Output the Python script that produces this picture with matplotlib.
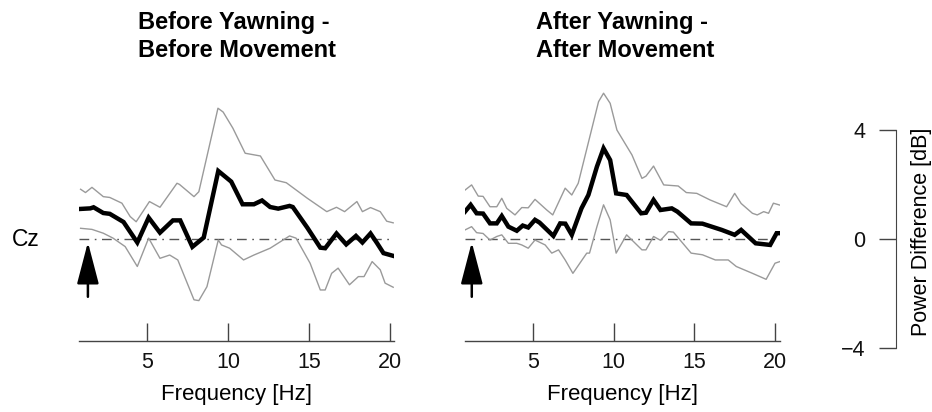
import matplotlib
matplotlib.use('Agg')
import matplotlib.pyplot as plt

plt.rcParams['font.family'] = ['Liberation Sans', 'DejaVu Sans']

# values, power difference in dB vs frequency in Hz
left_mean_f = [0.9, 1.5, 1.7, 2.3, 2.7, 3.55, 4.4, 5.1, 5.8, 6.6, 7.05, 7.8, 8.5, 9.4, 10.2,
               10.9, 11.6, 12.1, 12.6, 13.1, 13.8, 14.0, 14.9, 15.7, 16.0, 16.7, 17.3, 17.9,
               18.3, 18.8, 19.2, 19.6, 20.2]
left_mean_v = [1.10, 1.12, 1.16, 0.95, 0.92, 0.62, -0.13, 0.78, 0.23, 0.68, 0.68, -0.29, 0.05,
               2.49, 2.10, 1.27, 1.27, 1.41, 1.17, 1.11, 1.21, 1.17, 0.41, -0.32, -0.34, 0.20,
               -0.20, 0.11, -0.13, 0.20, -0.15, -0.52, -0.62]

left_upper_f = [0.9, 1.2, 1.6, 2.3, 2.7, 3.45, 3.96, 4.33, 5.15, 5.8, 6.85, 7.0, 7.9, 8.2, 9.1,
                9.38, 9.7, 10.3, 11.06, 12.0, 12.9, 13.6, 14.9, 16.1, 16.7, 17.2, 17.96, 18.3,
                18.8, 19.4, 19.8, 20.2]
left_upper_v = [1.82, 1.70, 1.89, 1.55, 1.52, 1.31, 0.82, 0.63, 1.37, 1.16, 2.04, 2.00, 1.55,
                1.73, 4.06, 4.79, 4.65, 4.06, 3.14, 3.04, 2.16, 2.06, 1.49, 1.00, 1.16, 1.00,
                1.37, 1.00, 1.15, 1.00, 0.65, 0.59]

left_lower_f = [0.9, 1.6, 2.3, 2.9, 3.65, 4.4, 5.1, 5.8, 6.4, 6.9, 7.9, 8.2, 8.7, 9.4, 9.6, 10.1,
                10.96, 11.6, 12.6, 13.8, 14.2, 15.07, 15.7, 16.0, 16.4, 16.8, 17.5, 18.05, 18.4,
                18.9, 19.4, 19.7, 20.2]
left_lower_v = [0.39, 0.35, 0.21, 0.03, -0.28, -1.01, 0.03, -0.71, -0.59, -0.77, -2.23, -2.26,
                -1.75, -0.04, -0.22, -0.34, -0.77, -0.59, -0.34, 0.11, 0.03, -0.89, -1.87, -1.87,
                -1.26, -1.07, -1.68, -1.38, -1.38, -0.83, -1.13, -1.62, -1.77]

right_mean_f = [0.78, 1.13, 1.5, 1.9, 2.33, 2.75, 3.06, 3.47, 3.99, 4.36, 4.7, 5.12, 5.4, 6.26,
                6.68, 7.0, 7.4, 8.0, 8.43, 8.96, 9.37, 9.78, 10.15, 10.8, 11.7, 12.0, 12.47, 12.9,
                13.6, 13.95, 14.8, 15.5, 16.7, 17.5, 17.9, 18.8, 19.7, 20.1, 20.3]
right_mean_v = [1.00, 1.25, 0.94, 0.93, 0.57, 0.57, 0.84, 0.45, 0.30, 0.49, 0.42, 0.70, 0.60,
                0.11, 0.57, 0.56, 0.15, 1.12, 1.61, 2.65, 3.32, 2.89, 1.67, 1.61, 0.94, 0.96,
                1.43, 1.06, 1.12, 1.00, 0.57, 0.56, 0.33, 0.15, 0.33, -0.16, -0.22, 0.21, 0.21]

right_upper_f = [0.78, 1.19, 1.6, 1.9, 2.33, 2.75, 3.06, 3.37, 3.88, 4.3, 4.7, 5.12, 5.85, 6.22,
                 6.99, 7.4, 7.8, 9.06, 9.37, 9.78, 10.2, 11.13, 11.75, 12.0, 12.47, 13.1, 14.0,
                 14.5, 15.15, 15.97, 17.0, 17.5, 17.9, 18.6, 18.9, 19.3, 19.6, 19.9, 20.3]
right_upper_v = [1.79, 1.98, 1.57, 1.56, 1.18, 1.18, 1.49, 1.12, 0.88, 1.15, 1.14, 1.45, 1.06,
                 0.88, 1.86, 1.61, 2.04, 5.03, 5.34, 4.97, 3.99, 3.08, 2.22, 2.30, 2.67, 1.98,
                 1.94, 1.70, 1.67, 1.43, 1.18, 1.67, 1.30, 0.94, 0.88, 1.00, 0.94, 1.31, 1.24]

right_lower_f = [0.78, 1.19, 1.5, 1.9, 2.33, 2.75, 3.06, 3.47, 3.99, 4.3, 4.7, 5.12, 5.75, 6.16,
                 6.58, 6.99, 7.47, 8.33, 8.5, 8.96, 9.37, 9.78, 10.15, 10.8, 11.75, 12.0, 12.47,
                 12.9, 13.4, 13.7, 14.8, 15.5, 16.3, 17.1, 17.6, 18.6, 19.45, 20.0, 20.3]
right_lower_v = [0.33, 0.45, 0.23, 0.20, -0.04, 0.09, 0.15, -0.16, -0.16, -0.22, -0.34, -0.04,
                 -0.22, -0.52, -0.40, -0.77, -1.26, -0.52, -0.52, 0.45, 1.25, 0.70, -0.52, 0.15,
                 -0.40, -0.40, 0.09, -0.05, 0.27, 0.25, -0.52, -0.58, -0.77, -0.77, -1.01, -1.26,
                 -1.48, -0.89, -0.83]

titles = ['Before Yawning -\nBefore Movement', 'After Yawning -\nAfter Movement']
freq_ticks = [5, 10, 15, 20]
power_ticks = [-4, 0, 4]
power_ticklabels = ['\u22124', '0', '4']
arrow_freq = [1.35, 1.2]
channel = 'Cz'

W, H = 932, 412
px_per_db = 27.29
zero_px = 239          # pixel row of 0 dB, counted from the top
ylim = (-3.74, 6.0)
bottom = (H - 341) / H
height = (341 - 75.2) / H

fig = plt.figure(figsize=(W / 100, H / 100), dpi=100)

panels = [
    (79, (0.8, 20.25), left_mean_f, left_mean_v, left_upper_f, left_upper_v, left_lower_f, left_lower_v),
    (465, (0.78, 20.31), right_mean_f, right_mean_v, right_upper_f, right_upper_v, right_lower_f, right_lower_v),
]
title_x = [138, 536]

spine_col = '#444444'
for i, (x0, xl, mf, mv, uf, uv, lf, lv) in enumerate(panels):
    ax = fig.add_axes([x0 / W, bottom, 315 / W, height])
    ax.axhline(0, color='#555555', lw=1.0, ls=(0, (7, 4, 1.2, 4)))
    ax.plot(uf, uv, color='#9a9a9a', lw=1.0)
    ax.plot(lf, lv, color='#9a9a9a', lw=1.0)
    ax.plot(mf, mv, color='black', lw=3.2, solid_joinstyle='miter')
    ax.annotate('', xy=(arrow_freq[i], -0.12), xytext=(arrow_freq[i], -2.12),
                arrowprops=dict(arrowstyle='-|>,head_length=2.6,head_width=0.68',
                                color='black', lw=1.8, shrinkA=0, shrinkB=0, mutation_scale=10))
    for s in ['left', 'top', 'right']:
        ax.spines[s].set_visible(False)
    ax.spines['bottom'].set_color(spine_col)
    ax.spines['bottom'].set_linewidth(1.0)
    ax.set_yticks([])
    ax.set_xticks(freq_ticks)
    ax.set_xlim(*xl)
    ax.set_ylim(*ylim)
    ax.tick_params(axis='x', direction='in', length=13, width=1.0, color=spine_col,
                   pad=8, labelsize=15.5, labelcolor='#111111')
    ax.set_xlabel('Frequency [Hz]', fontsize=16, labelpad=8)
    fig.text(title_x[i] / W, 1 - 11 / H, titles[i], ha='left', va='top',
             fontsize=17, fontweight='bold', linespacing=1.3, multialignment='left')

fig.text(26 / W, 1 - 240 / H, channel, ha='center', va='center', fontsize=16.5)

# power scale on the right, same dB-to-pixel scale as the panels
lo, hi = -4.3, 4.3
top_px = zero_px - hi * px_per_db
bot_px = zero_px - lo * px_per_db
ax3 = fig.add_axes([896 / W, (H - bot_px) / H, 0.0005, (bot_px - top_px) / H])
ax3.set_xticks([])
for s in ['bottom', 'top', 'right']:
    ax3.spines[s].set_visible(False)
ax3.spines['left'].set_bounds(-4, 4)
ax3.spines['left'].set_color(spine_col)
ax3.set_yticks(power_ticks)
ax3.set_yticklabels(power_ticklabels)
ax3.set_ylim(lo, hi)
ax3.tick_params(axis='y', direction='out', length=12, width=1.0, color=spine_col,
                pad=10, labelsize=15.5, labelcolor='#111111')
fig.text(921 / W, 1 - 232 / H, 'Power Difference [dB]', rotation=90,
         ha='center', va='center', fontsize=15.5)

fig.savefig('out.png', dpi=100)
